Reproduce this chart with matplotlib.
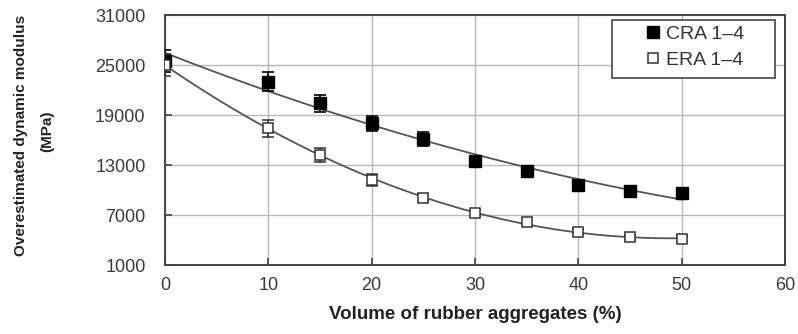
import numpy as np
import matplotlib

matplotlib.use("Agg")
import matplotlib.pyplot as plt
from matplotlib.patches import Rectangle

# Rubber aggregate volume (%) and overestimated dynamic modulus (MPa)
volume = [0, 10, 15, 20, 25, 30, 35, 40, 45, 50]
cra_modulus = [25500, 23000, 20400, 18000, 16100, 13500, 12300, 10600, 9900, 9700]
cra_err = [1300, 1100, 1000, 900, 800, 600, 500, 450, 400, 500]
era_modulus = [25000, 17400, 14200, 11200, 9100, 7200, 6200, 5000, 4300, 4100]
era_err = [1300, 1050, 800, 700, 450, 350, 400, 300, 250, 350]

x_ticks = [0, 10, 20, 30, 40, 50, 60]
y_ticks = [1000, 7000, 13000, 19000, 25000, 31000]

W, H = 798, 334
plt.rcParams["font.family"] = ["Liberation Sans", "DejaVu Sans"]

fig = plt.figure(figsize=(W / 100, H / 100), dpi=100)
ax = fig.add_axes([165 / W, 1 - 265 / H, 620 / W, 250 / H])

# second-order trend lines through each series
x = np.array(volume, dtype=float)
xs = np.linspace(0, 50, 200)
for series in (cra_modulus, era_modulus):
    coef = np.polyfit(x, series, 2)
    ax.plot(xs, np.polyval(coef, xs), color="#555555", lw=1.3, zorder=2)

ax.errorbar(volume, cra_modulus, yerr=cra_err, fmt="s", ms=8.5, mfc="black",
            mec="black", ecolor="black", elinewidth=1.2, capsize=4.5,
            capthick=1.2, label="CRA 1\u20134", zorder=4)
ax.errorbar(volume, era_modulus, yerr=era_err, fmt="s", ms=7, mfc="white",
            mec="#333333", mew=1.1, ecolor="#333333", elinewidth=1.2,
            capsize=4.5, capthick=1.2, label="ERA 1\u20134", zorder=4)

ax.set_xlim(0, 60)
ax.set_ylim(1000, 31000)
ax.set_xticks(x_ticks)
ax.set_yticks(y_ticks)
ax.grid(True, color="#b8b8b8", lw=1.0)
ax.set_axisbelow(True)
ax.tick_params(direction="in", length=5, width=1.2, color="#444444",
               labelsize=13, labelcolor="#3a3a3a", pad=9)
ax.tick_params(axis="y", pad=14)
for spine in ax.spines.values():
    spine.set_color("#444444")
    spine.set_linewidth(1.4)

ax.set_xlabel("Volume of rubber aggregates (%)", fontsize=13.5,
              fontweight="bold", color="#222222", labelpad=8)
fig.text(21 / W, 1 - 135 / H, "Overestimated dynamic modulus",
         rotation=90, ha="center", va="center", fontsize=11,
         fontweight="bold", color="#222222")
fig.text(47 / W, 1 - 131 / H, "(MPa)", rotation=90, ha="center",
         va="center", fontsize=11, fontweight="bold", color="#222222")

# legend box drawn separately so the padding can be wider than the entries
ax.add_patch(Rectangle((612 / W, 1 - 78 / H), 163 / W, 58 / H,
                       transform=fig.transFigure, facecolor="white",
                       edgecolor="#444444", lw=1.2, clip_on=False, zorder=4.5))
handles, labels = ax.get_legend_handles_labels()
handles = [h[0] for h in handles]
leg = ax.legend(handles, labels, loc="upper left",
                bbox_to_anchor=(645 / W, 1 - 25 / H),
                bbox_transform=fig.transFigure, fontsize=14, frameon=False,
                handlelength=0.8, handletextpad=0.3, borderpad=0,
                labelspacing=0.45, borderaxespad=0)
leg.set_zorder(5)
for t in leg.get_texts():
    t.set_color("#333333")

fig.savefig("out.png", dpi=100)
